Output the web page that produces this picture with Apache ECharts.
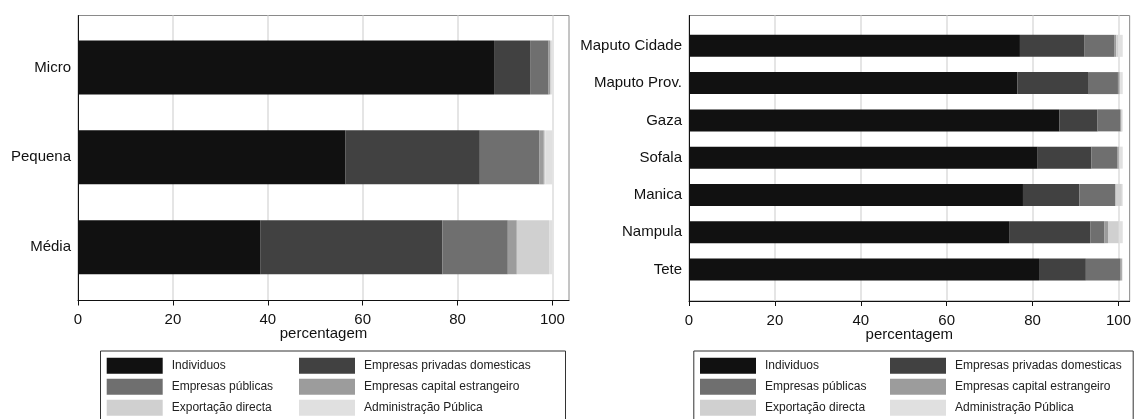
<!DOCTYPE html>
<html>
<head>
<meta charset="utf-8">
<script src="https://cdn.jsdelivr.net/npm/echarts@6/dist/echarts.min.js"></script>
<style>
html,body{margin:0;padding:0;background:#fff;}
#chart{width:1134px;height:419px;}
</style>
</head>
<body>
<div id="chart"></div>
<script>
// ---- data ----
const seriesNames = ['Individuos', 'Empresas privadas domesticas', 'Empresas públicas',
  'Empresas capital estrangeiro', 'Exportação directa', 'Administração Pública'];

const firmCategories = ['Micro', 'Pequena', 'Média'];
const firmIndividuos = [87.7, 56.4, 38.4];
const firmPrivadas = [7.6, 28.3, 38.4];
const firmPublicas = [3.9, 12.5, 13.8];
const firmCapital = [0.3, 1.0, 1.9];
const firmExportacao = [0.2, 0.3, 6.8];
const firmAdmin = [0.3, 1.5, 0.7];

const provCategories = ['Maputo Cidade', 'Maputo Prov.', 'Gaza', 'Sofala', 'Manica', 'Nampula', 'Tete'];
const provIndividuos = [76.3, 75.7, 85.4, 80.4, 77.0, 73.8, 80.7];
const provPrivadas = [14.8, 16.3, 8.8, 12.4, 13.0, 18.7, 10.8];
const provPublicas = [6.9, 6.9, 5.2, 5.9, 8.3, 3.3, 7.9];
const provCapital = [0.5, 0.4, 0.3, 0.4, 0.1, 0.8, 0.4];
const provExportacao = [0.5, 0.2, 0.1, 0.2, 1.4, 2.5, 0.1];
const provAdmin = [1.0, 0.5, 0.2, 0.7, 0.2, 0.9, 0.1];

const xTicks = [0, 20, 40, 60, 80, 100];
const axisTitle = 'percentagem';

// ---- styling ----
const colors = ['#111111', '#414141', '#6f6f6f', '#9c9c9c', '#d0d0d0', '#e0e0e0'];
const FONT = '"Liberation Sans", Arial, sans-serif';
const TXT = '#111111';

const firmSeriesData = [firmIndividuos, firmPrivadas, firmPublicas, firmCapital, firmExportacao, firmAdmin];
const provSeriesData = [provIndividuos, provPrivadas, provPublicas, provCapital, provExportacao, provAdmin];

const L = {left: 78, top: 15.5, width: 491, height: 285, max: 103.5, barTop: 22.5, barHeight: 269.7, barWidth: 54,
  legBox: [100, 350.5, 465, 90], legCol1: 106.7, legCol2: 299};
const R = {left: 689, top: 15.5, width: 445, height: 285.5, max: 102.6, barTop: 27.2, barHeight: 260.9, barWidth: 22,
  legBox: [693.3, 350.5, 439.4, 90], legCol1: 700, legCol2: 890};

function frameGrid(p) {
  return {left: p.left, top: p.top, width: p.width, height: p.height, show: true,
    borderColor: '#8a8a8a', borderWidth: 1, backgroundColor: '#fff', containLabel: false};
}
function barGrid(p) {
  return {left: p.left, top: p.barTop, width: p.width, height: p.barHeight, containLabel: false};
}
function frameX(p, gi) {
  return {
    type: 'value', gridIndex: gi, min: 0, max: p.max, interval: 20,
    name: axisTitle, nameLocation: 'middle', nameGap: 26, nameMoveOverlap: false,
    nameTextStyle: {fontFamily: FONT, fontSize: 15, color: TXT},
    axisLine: {show: true, lineStyle: {color: '#111', width: 1}},
    axisTick: {show: true, length: 5, lineStyle: {color: '#111'}, customValues: xTicks},
    axisLabel: {fontFamily: FONT, fontSize: 15, color: TXT, margin: 12, customValues: xTicks,
      alignMinLabel: 'center', alignMaxLabel: 'center'},
    splitLine: {show: true, lineStyle: {color: '#dcdcdc', width: 1.5}}
  };
}
function frameY(gi) {
  return {type: 'value', gridIndex: gi, min: 0, max: 1,
    axisLine: {show: true, lineStyle: {color: '#111', width: 1}},
    axisTick: {show: false}, axisLabel: {show: false}, splitLine: {show: false}};
}
function barX(p, gi) {
  return {type: 'value', gridIndex: gi, min: 0, max: p.max, show: false, splitLine: {show: false}};
}
function barY(cats, gi) {
  return {type: 'category', gridIndex: gi, data: cats, inverse: true,
    axisLine: {show: false}, axisTick: {show: false},
    axisLabel: {fontFamily: FONT, fontSize: 15, color: TXT, margin: 7}};
}

const series = [];
seriesNames.forEach((n, i) => {
  series.push({name: n, type: 'bar', stack: 'firm', xAxisIndex: 2, yAxisIndex: 2,
    data: firmSeriesData[i], barWidth: L.barWidth, itemStyle: {color: colors[i]}, silent: true});
});
seriesNames.forEach((n, i) => {
  series.push({name: n, type: 'bar', stack: 'prov', xAxisIndex: 3, yAxisIndex: 3,
    data: provSeriesData[i], barWidth: R.barWidth, itemStyle: {color: colors[i]}, silent: true});
});

function legendCol(left, names) {
  return {
    left: left, top: 357.7, orient: 'vertical', padding: 0,
    itemGap: 5, itemWidth: 56, itemHeight: 16, icon: 'rect',
    selectedMode: false, data: names, z: 10,
    textStyle: {fontFamily: FONT, fontSize: 12, color: '#222', padding: [0, 0, 0, 4]}
  };
}
const col1Names = [seriesNames[0], seriesNames[2], seriesNames[4]];
const col2Names = [seriesNames[1], seriesNames[3], seriesNames[5]];

function legendBox(p) {
  return {type: 'rect', left: p.legBox[0], top: p.legBox[1], z: 5,
    shape: {width: p.legBox[2], height: p.legBox[3]},
    style: {fill: '#fff', stroke: '#333', lineWidth: 1}};
}

const option = {
  animation: false,
  backgroundColor: '#fff',
  color: colors,
  grid: [frameGrid(L), frameGrid(R), barGrid(L), barGrid(R)],
  xAxis: [frameX(L, 0), frameX(R, 1), barX(L, 2), barX(R, 3)],
  yAxis: [frameY(0), frameY(1), barY(firmCategories, 2), barY(provCategories, 3)],
  legend: [legendCol(L.legCol1, col1Names), legendCol(L.legCol2, col2Names),
           legendCol(R.legCol1, col1Names), legendCol(R.legCol2, col2Names)],
  graphic: [legendBox(L), legendBox(R)],
  series: series
};

const chart = echarts.init(document.getElementById('chart'), null, {renderer: 'canvas'});
chart.setOption(option);
</script>
</body>
</html>
